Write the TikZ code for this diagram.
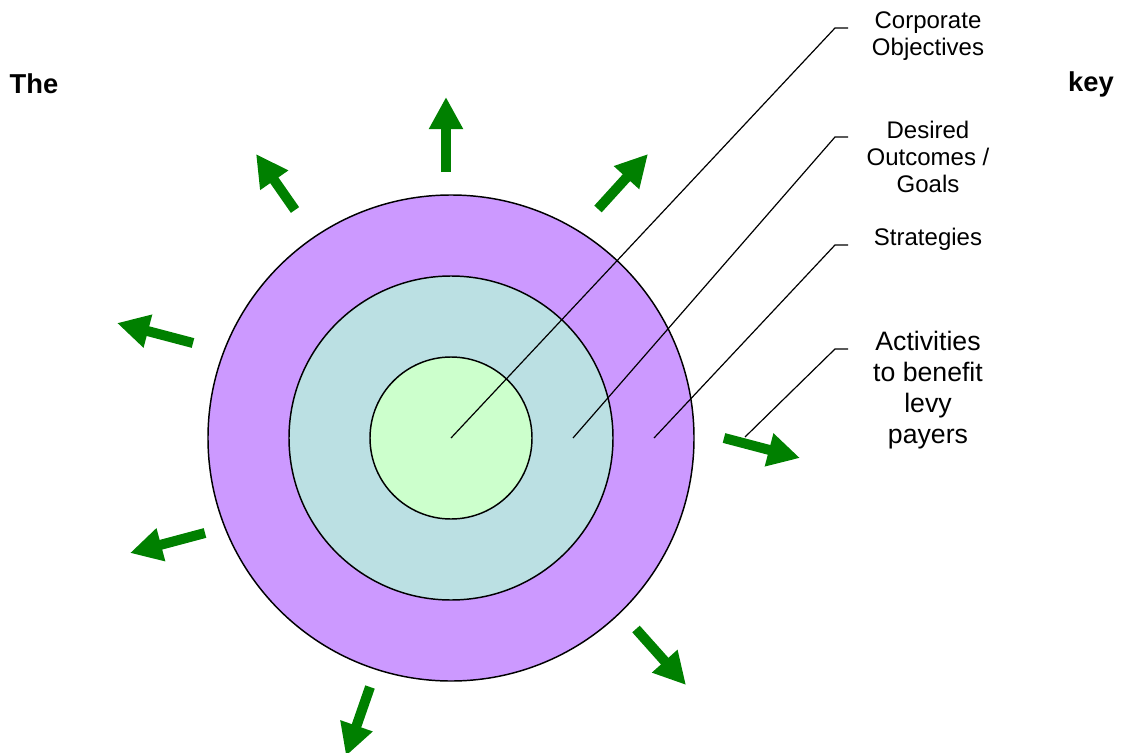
\documentclass[tikz,border=0pt]{standalone}
\usepackage{fontspec}
\setmainfont{Liberation Sans}
\usetikzlibrary{arrows.meta, positioning}
\definecolor{ring-purple}{RGB}{204,153,255}
\definecolor{ring-blue}{RGB}{187,224,227}
\definecolor{ring-green}{RGB}{204,255,204}
\definecolor{push-green}{RGB}{0,128,0}

\begin{document}
\begin{tikzpicture}[
  x=0.75pt, y=-0.75pt,
  ring/.style={draw, circle, line width=1.1pt, inner sep=0pt},
  push/.style={-{Triangle[length=24pt, width=24pt]}, line width=7.5pt, push-green},
  leader/.style={draw, line width=0.9pt},
  keytext/.style={align=center, font=\fontsize{18}{20.4}\selectfont},
  bigtext/.style={align=center, font=\fontsize{20.5}{23.5}\bfseries\selectfont},
]
  \useasboundingbox (0,0) rectangle (1122,753);

  % Rings
  \node[ring, fill=ring-purple, minimum size=364.5pt] (outer) at (451,438) {};
  \node[ring, fill=ring-blue, minimum size=243pt] (middle) at (451,438) {};
  \node[ring, fill=ring-green, minimum size=121.5pt] (inner) at (451,438) {};

  % Leader start points
  \coordinate (c1) at (451,438);
  \coordinate (c2) at (573,438);
  \coordinate (c3) at (654,438);
  \coordinate (c4) at (745,437);

  % Arrows
  \coordinate (t1) at (446,172); \coordinate (h1) at (446,97);
  \coordinate (t2) at (295,210); \coordinate (h2) at (256,154);
  \coordinate (t3) at (598,209); \coordinate (h3) at (648,154);
  \coordinate (t4) at (193,343); \coordinate (h4) at (117,323);
  \coordinate (t5) at (724,438); \coordinate (h5) at (800,458);
  \coordinate (t6) at (205,533); \coordinate (h6) at (130,553);
  \coordinate (t7) at (636,629); \coordinate (h7) at (686,685);
  \coordinate (t8) at (370,687); \coordinate (h8) at (346,756);
  \foreach \i in {1,...,8}
    \draw[push] (t\i) -- (h\i);

  % Key labels
  \node[keytext] (corp) at (928,36) {Corporate\\Objectives};
  \node[keytext] (goals) at (928,157) {Desired\\Outcomes /\\Goals};
  \node[keytext] (strat) at (928,239) {Strategies};
  \node[keytext, font=\fontsize{20}{23.3}\selectfont] (act) at (928,390) {Activities\\to benefit\\levy\\payers};

  \coordinate (k1) at (848,28);
  \coordinate (k2) at (848,137);
  \coordinate (k3) at (848,245);
  \coordinate (k4) at (848,349);

  \draw[leader] (c1) -- (835,28) -- (k1);
  \draw[leader] (c2) -- (835,137) -- (k2);
  \draw[leader] (c3) -- (835,245) -- (k3);
  \draw[leader] (c4) -- (835,349) -- (k4);

  % Heading words
  \node[bigtext] (the) at (34,84) {The};
  \node[bigtext] (key) at (1091,84) {key};
\end{tikzpicture}
\end{document}
